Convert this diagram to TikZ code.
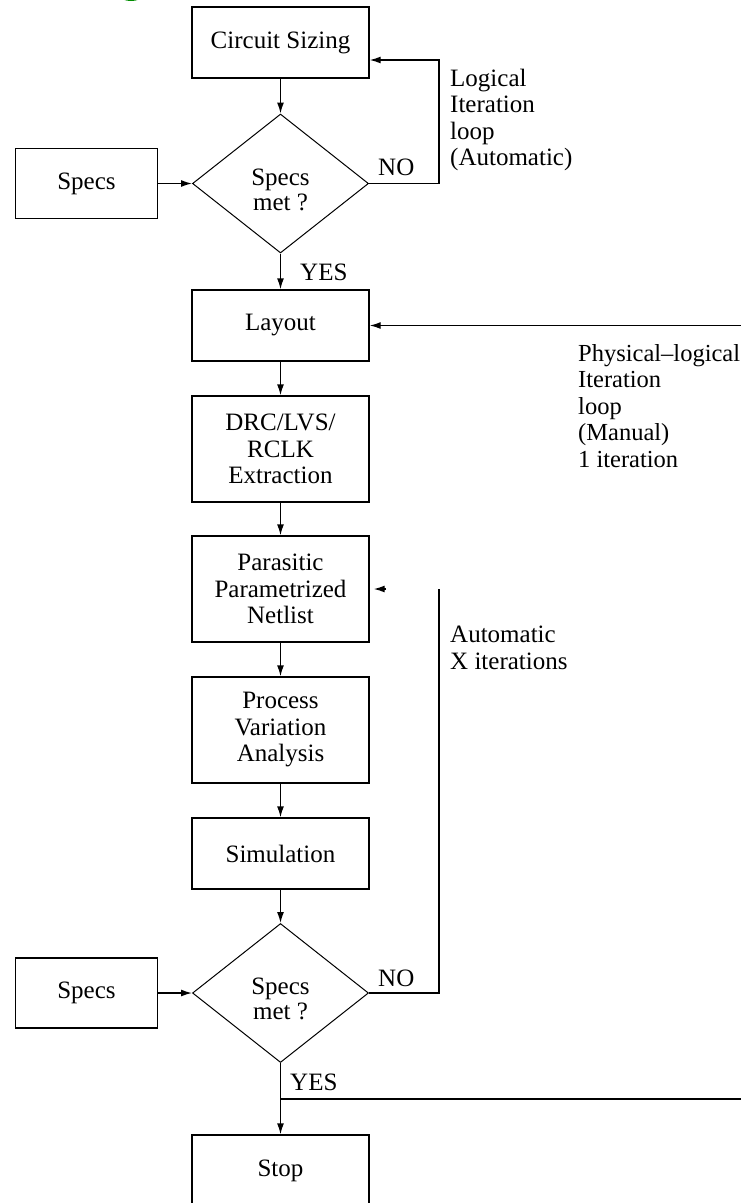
\documentclass[tikz,border=0pt]{standalone}
\usepackage{fontspec}
\setmainfont{Liberation Serif}
\usetikzlibrary{shapes.geometric,arrows.meta}
\begin{document}
\begin{tikzpicture}[x=1pt,y=-1pt]
\tikzstyle{stepbox}=[draw,rectangle,line width=1.4pt,minimum width=177pt,minimum height=71pt,inner sep=2pt,align=center,font=\fontsize{25}{26.5}\selectfont]
\tikzstyle{tallbox}=[stepbox,minimum height=106pt]
\tikzstyle{specsbox}=[stepbox,minimum width=142pt,minimum height=70pt]
\tikzstyle{decision}=[draw,diamond,line width=1pt,minimum width=176pt,minimum height=139pt,aspect=1.27,inner sep=0pt,align=center,text height=54pt,font=\fontsize{25}{25}\selectfont]
\tikzstyle{flow}=[-{Latex[length=11pt,width=7pt]},line width=1.4pt]
\tikzstyle{plain}=[line width=1.4pt]
\tikzstyle{note}=[anchor=west,inner sep=0pt,align=left,font=\fontsize{25}{26.5}\selectfont]
\useasboundingbox (0,0) rectangle (741,1203);
\fill[green!55!black] (131,-4) ellipse (11pt and 5pt);
\node[stepbox] (sizing) at (280.5,42.5) {Circuit Sizing};
\node[decision] (dec1) at (280.5,183.5) {Specs\\met ?};
\node[specsbox] (specs1) at (86.5,183.5) {Specs};
\node[stepbox] (layout) at (280.5,325.5) {Layout};
\node[tallbox] (drc) at (280.5,449) {DRC/LVS/\\RCLK\\Extraction};
\node[tallbox] (netlist) at (280.5,589) {Parasitic\\Parametrized\\Netlist};
\node[tallbox] (process) at (280.5,730) {Process\\Variation\\Analysis};
\node[stepbox] (sim) at (280.5,853.5) {Simulation};
\node[decision] (dec2) at (280.5,993) {Specs\\met ?};
\node[specsbox] (specs2) at (86.5,993) {Specs};
\node[stepbox] (stop) at (280.5,1170.5) {Stop};
\coordinate (loopin) at (439,60);
\coordinate (physin) at (741,325.5);
\coordinate (stub) at (386,589);
\coordinate (autotop) at (439,589);
\coordinate (yesjoin) at (280.5,1099);
\coordinate (yesout) at (741,1099);
\draw[flow] (sizing) -- (dec1);
\draw[flow] (specs1) -- (dec1);
\draw[flow] (dec1) -- (layout);
\draw[flow] (dec1.east) -- (dec1.east -| loopin) -- (loopin) -- (sizing.east |- loopin);
\draw[flow] (physin) -- (layout.east);
\draw[flow] (layout) -- (drc);
\draw[flow] (drc) -- (netlist);
\draw[flow,shorten >=4pt] (stub) -- (netlist.east);
\draw[flow] (netlist) -- (process);
\draw[flow] (process) -- (sim);
\draw[flow] (sim) -- (dec2);
\draw[flow] (specs2) -- (dec2);
\draw[plain] (dec2.east) -- (dec2.east -| autotop) -- (autotop);
\draw[flow] (dec2) -- (stop);
\draw[plain] (yesjoin) -- (yesout);
\node[note] (no1) at (378,167) {NO};
\node[note] (yes1) at (300,272) {YES};
\node[note] (no2) at (378,978) {NO};
\node[note] (yes2) at (290,1082) {YES};
\node[note] (logicnote) at (450,120) {Logical\\Iteration\\loop\\(Automatic)};
\node[note,font=\fontsize{24.5}{26.5}\selectfont] (physnote) at (578,406) {Physical--logical\\Iteration\\loop\\(Manual)\\1 iteration};
\node[note] (autonote) at (450,648) {Automatic\\X iterations};
\end{tikzpicture}
\end{document}
